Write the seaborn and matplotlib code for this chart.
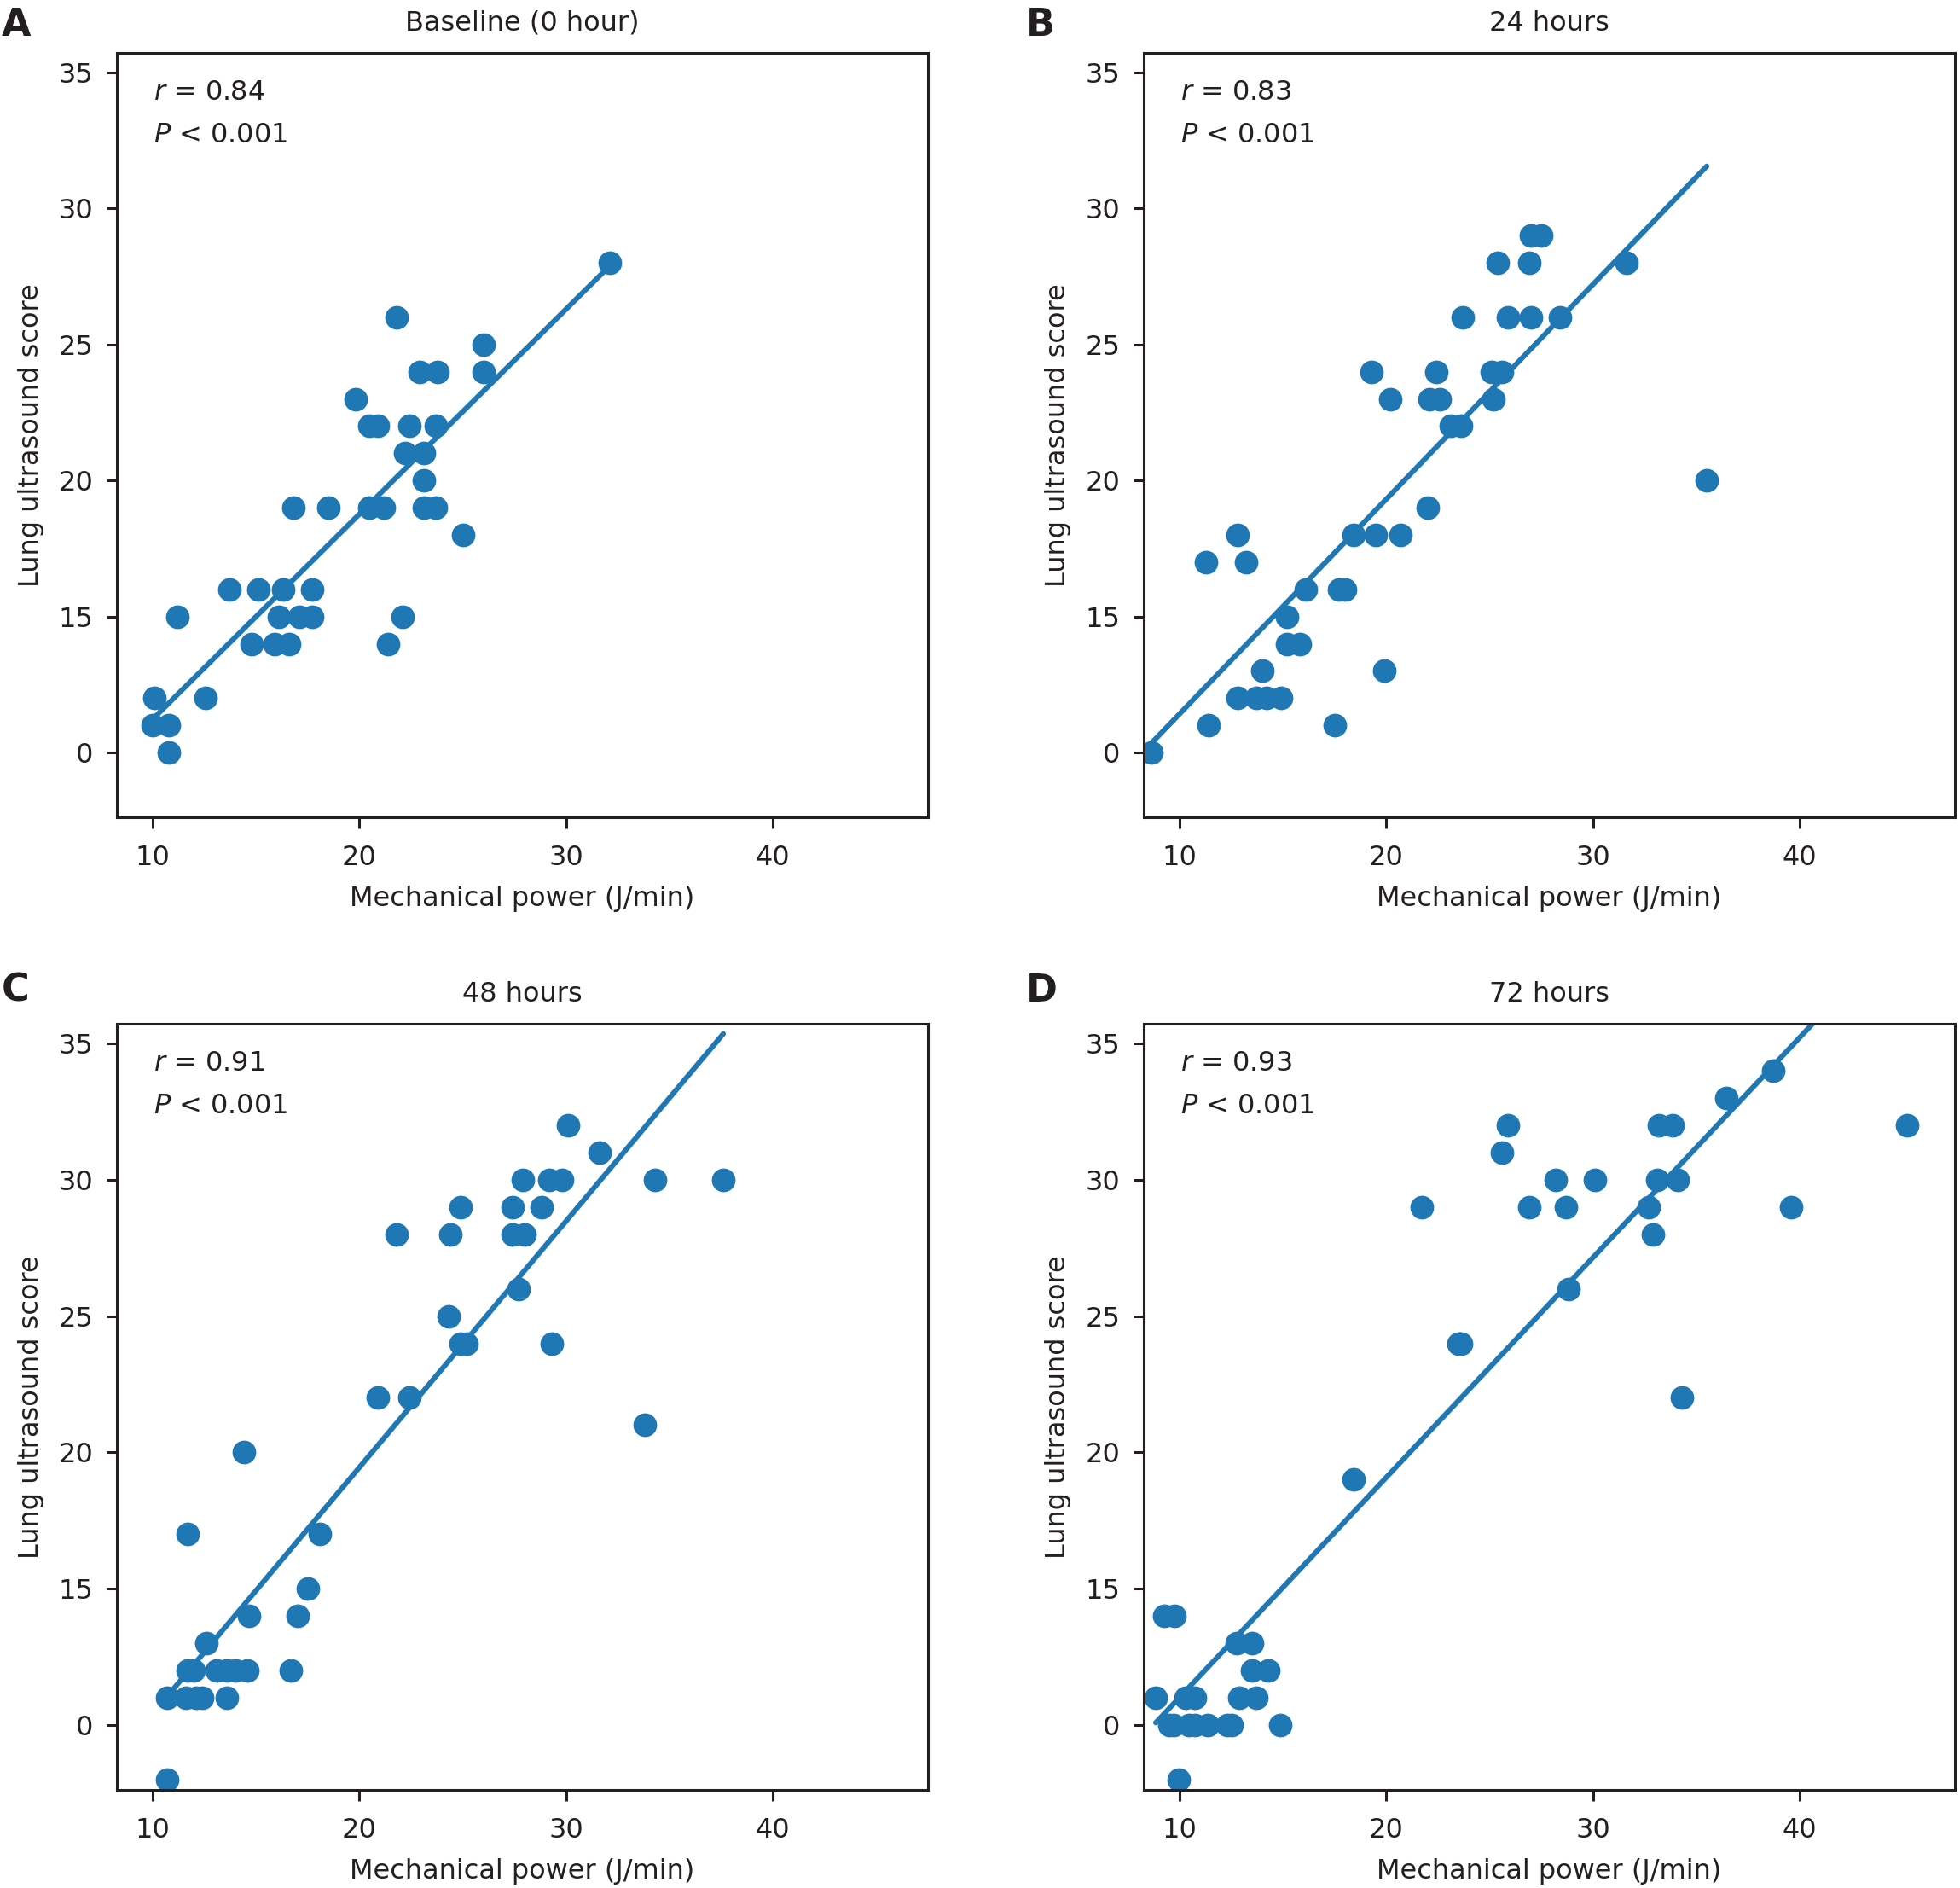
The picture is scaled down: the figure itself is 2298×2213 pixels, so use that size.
import matplotlib
matplotlib.use("Agg")
import matplotlib.pyplot as plt
import seaborn as sns
import pandas as pd

# ---------------- data ----------------
titles = ["Baseline (0 hour)", "24 hours", "48 hours", "72 hours"]
letters = ["A", "B", "C", "D"]
r_values = ["0.84", "0.83", "0.91", "0.93"]
p_text = "< 0.001"

a_x = [10.1, 10.0, 10.8, 10.8, 11.2, 12.55, 13.7, 14.8, 15.1, 15.9, 16.6, 16.1, 16.3,
       16.8, 17.1, 17.7, 17.7, 18.5, 19.8, 20.5, 20.9, 20.5, 21.2, 21.4, 21.8, 22.1,
       22.4, 22.2, 23.1, 22.9, 23.8, 23.1, 23.1, 23.7, 23.7, 25.0, 26.0, 26.0, 32.1]
a_y = [12, 11, 11, 10, 15, 12, 16, 14, 16, 14, 14, 15, 16,
       19, 15, 15, 16, 19, 23, 22, 22, 19, 19, 14, 26, 15,
       22, 21, 21, 24, 24, 20, 19, 19, 22, 18, 25, 24, 28]

b_x = [8.64, 11.3, 11.4, 12.8, 12.8, 13.2, 13.7, 14.2, 14.9, 14.0, 15.2, 15.2, 15.8,
       16.1, 17.5, 17.7, 18.0, 18.4, 19.3, 19.5, 19.9, 20.2, 20.7, 22.0, 22.1, 22.6,
       22.4, 23.1, 23.6, 23.7, 25.1, 25.6, 25.2, 25.4, 25.9, 26.9, 27.0, 27.0, 27.5,
       28.4, 31.6, 35.5]
b_y = [10, 17, 11, 18, 12, 17, 12, 12, 12, 13, 15, 14, 14,
       16, 11, 16, 16, 18, 24, 18, 13, 23, 18, 19, 23, 23,
       24, 22, 22, 26, 24, 24, 23, 28, 26, 28, 26, 29, 29,
       26, 28, 20]

c_x = [10.7, 10.7, 11.7, 11.7, 12.0, 11.6, 12.1, 12.4, 12.6, 13.1, 13.6, 14.0, 14.6,
       13.6, 14.4, 14.65, 16.7, 17.0, 17.5, 18.1, 20.9, 21.8, 22.4, 24.3, 24.4, 24.9,
       24.9, 25.2, 27.4, 27.4, 28.0, 27.7, 27.9, 28.8, 29.3, 29.2, 29.8, 30.1, 31.6,
       33.8, 34.3, 37.6]
c_y = [11, 8, 17, 12, 12, 11, 11, 11, 13, 12, 12, 12, 12,
       11, 20, 14, 12, 14, 15, 17, 22, 28, 22, 25, 28, 29,
       24, 24, 29, 28, 28, 26, 30, 29, 24, 30, 30, 32, 31,
       21, 30, 30]

d_x = [8.85, 9.25, 9.75, 9.5, 9.7, 9.95, 10.3, 10.75, 10.45, 10.75, 11.35, 12.3, 12.5,
       12.75, 13.5, 12.9, 13.7, 13.5, 14.3, 14.85, 18.4, 21.7, 23.5, 23.6, 25.6, 25.9,
       26.9, 28.2, 28.7, 28.8, 30.1, 32.7, 32.9, 33.1, 33.2, 33.85, 34.1, 34.3, 36.45,
       38.7, 39.6, 45.2]
d_y = [11, 14, 14, 10, 10, 8, 11, 11, 10, 10, 10, 10, 10,
       13, 13, 11, 11, 12, 12, 10, 19, 29, 24, 24, 31, 32,
       29, 30, 29, 26, 30, 29, 28, 30, 32, 32, 30, 22, 33,
       34, 29, 32]

xs = [a_x, b_x, c_x, d_x]
ys = [a_y, b_y, c_y, d_y]

x_ticks = [10, 20, 30, 40]
y_ticks = [10, 15, 20, 25, 30, 35]
y_tick_labels = ["0", "15", "20", "25", "30", "35"]
x_label = "Mechanical power (J/min)"
y_label = "Lung ultrasound score"

# ---------------- style ----------------
sns.set_style("ticks")
plt.rcParams["font.family"] = ["DejaVu Sans"]
plt.rcParams["mathtext.fontset"] = "dejavusans"
TXT = "#231f20"
BLUE = "#1f77b4"
FS = 11.5

W, H = 2298, 2213
fig = plt.figure(figsize=(W / 200, H / 200), dpi=200)

# axes boxes in pixels: (left, top, width, height)
boxes = [(137, 62, 951, 896), (1341, 62, 951, 896),
         (137, 1200, 951, 898), (1341, 1200, 951, 898)]
letter_pos = [(2, 8), (1203, 8), (2, 1140), (1203, 1140)]

for i in range(4):
    l, t, w, h = boxes[i]
    ax = fig.add_axes([l / W, 1 - (t + h) / H, w / W, h / H])
    df = pd.DataFrame({"x": xs[i], "y": ys[i]})
    sns.regplot(data=df, x="x", y="y", ax=ax, ci=None, color=BLUE,
                scatter_kws=dict(s=100, alpha=1, linewidths=0),
                line_kws=dict(linewidth=2.2))
    ax.set_xlim(8.27, 47.5)
    ax.set_ylim(7.62, 35.72)
    ax.set_xticks(x_ticks)
    ax.set_yticks(y_ticks)
    ax.set_yticklabels(y_tick_labels)
    ax.tick_params(axis="both", direction="out", length=4.5, width=1.1,
                   labelsize=FS, colors=TXT)
    ax.tick_params(axis="x", pad=7)
    ax.tick_params(axis="y", pad=5.5)
    for sp in ax.spines.values():
        sp.set_visible(True)
        sp.set_linewidth(1.1)
        sp.set_color(TXT)
    ax.set_xlabel(x_label, fontsize=FS, color=TXT, labelpad=6)
    ax.set_ylabel(y_label, fontsize=FS, color=TXT, labelpad=6)
    ax.set_title(titles[i], fontsize=FS, color=TXT, pad=9.5)
    ax.text(0.045, 0.965, "$r$ = " + r_values[i], transform=ax.transAxes,
            fontsize=FS, color=TXT, va="top", ha="left")
    ax.text(0.045, 0.910, "$P$ " + p_text, transform=ax.transAxes,
            fontsize=FS, color=TXT, va="top", ha="left")
    lx, ly = letter_pos[i]
    fig.text(lx / W, 1 - ly / H, letters[i], fontsize=16, fontweight="bold",
             color=TXT, va="top", ha="left")

fig.savefig("out.png", dpi=200, facecolor="white")
